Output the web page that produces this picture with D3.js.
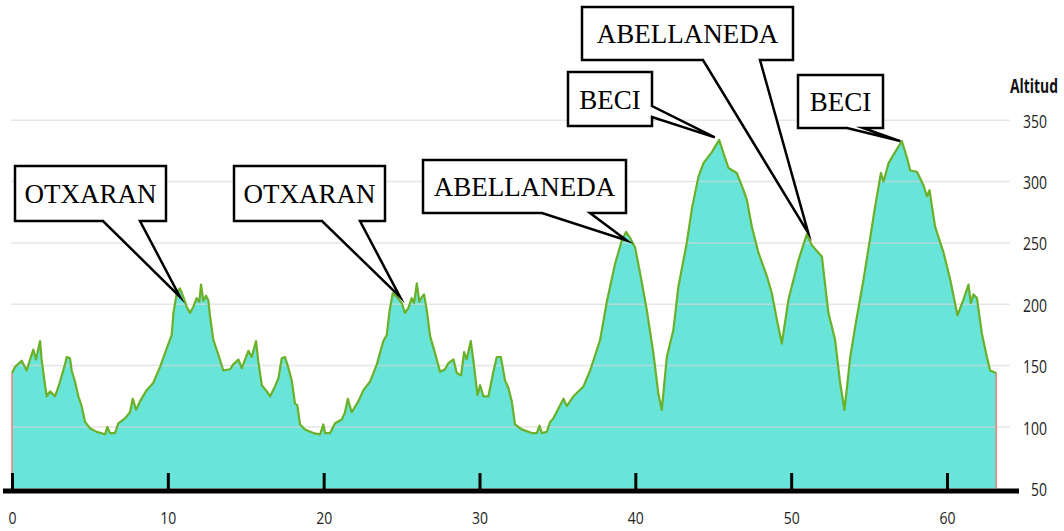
<!DOCTYPE html>
<html lang="es">

<head>
  <meta charset="UTF-8">
  <title>Perfil de altitud</title>
  <script src="https://d3js.org/d3.v7.min.js"></script>
  <style>
    body { margin: 0; background: #fff; }
    svg { display: block; }
  </style>
</head>

<body>
  <div id="container"></div>
  <script>
    // distance (km) / altitude (m)
    const distKm = [
      0, 0.2, 0.62, 0.94, 1.26, 1.37, 1.54, 1.8, 1.9, 2.12,
      2.23, 2.44, 2.76, 3.06, 3.4, 3.51, 3.72, 3.83, 4.04, 4.26,
      4.47, 4.69, 5.0, 5.44, 5.97, 6.12, 6.29, 6.61, 6.82, 7.25,
      7.57, 7.75, 7.96, 8.22, 8.64, 9.07, 9.5, 9.93, 10.25, 10.36,
      10.57, 10.78, 10.96, 11.21, 11.42, 11.64, 11.85, 12.02, 12.13, 12.28,
      12.45, 12.6, 12.71, 12.92, 13.24, 13.56, 13.99, 14.2, 14.53, 14.74,
      15.17, 15.38, 15.66, 15.81, 16.03, 16.35, 16.56, 16.88, 17.1, 17.31,
      17.52, 17.74, 17.95, 18.16, 18.3, 18.49, 18.8, 19.34, 19.77, 19.98,
      20.09, 20.41, 20.73, 21.16, 21.37, 21.55, 21.8, 22.23, 22.55, 22.98,
      23.41, 23.83, 24.05, 24.22, 24.43, 24.69, 25.01, 25.22, 25.44, 25.65,
      25.8, 25.98, 26.14, 26.3, 26.44, 26.62, 26.83, 27.15, 27.47, 27.79,
      28.0, 28.33, 28.54, 28.82, 29.01, 29.18, 29.44, 29.61, 29.87, 30.04,
      30.25, 30.57, 30.89, 31.11, 31.37, 31.64, 31.85, 32.07, 32.28, 32.71,
      33.36, 33.68, 33.85, 34.0, 34.32, 34.53, 34.74, 35.39, 35.6, 36.03,
      36.67, 37.1, 37.74, 38.17, 38.7, 39.13, 39.41, 39.67, 39.99, 40.31,
      40.74, 41.16, 41.48, 41.7, 42.02, 42.44, 42.76, 43.3, 43.63, 44.05,
      44.37, 44.91, 45.38, 45.66, 45.98, 46.51, 46.94, 47.16, 47.48, 47.9,
      48.44, 48.76, 49.09, 49.4, 49.83, 50.47, 51.0, 51.33, 51.75, 51.97,
      52.39, 52.82, 53.14, 53.42, 53.79, 54.11, 54.64, 55.07, 55.39, 55.76,
      55.93, 56.25, 56.57, 57.1, 57.42, 57.64, 58.07, 58.49, 58.71, 58.88,
      59.03, 59.24, 59.78, 60.21, 60.67, 61.06, 61.38, 61.53, 61.7, 61.92,
      62.24, 62.56, 62.77, 63.16
    ];
    const altM = [
      144, 149, 154, 146, 159, 163, 155, 170, 155, 134,
      125, 129, 125, 136, 151, 157, 156, 146, 137, 125,
      117, 104, 99, 96, 94, 100, 95, 95, 103, 107,
      112, 123, 114, 121, 130, 136, 149, 164, 175, 193,
      209, 213, 207, 198, 193, 198, 205, 202, 216, 203,
      207, 203, 190, 171, 159, 146, 147, 151, 155, 148,
      162, 157, 170, 153, 134, 129, 125, 133, 140, 156,
      157, 148, 138, 119, 118, 102, 98, 95, 94, 102,
      95, 95, 103, 106, 112, 123, 112, 121, 130, 137,
      151, 170, 175, 194, 209, 206, 201, 193, 197, 205,
      201, 217, 202, 206, 208, 195, 174, 160, 145, 147,
      152, 155, 144, 142, 161, 155, 170, 154, 126, 134,
      125, 125, 145, 157, 157, 138, 132, 121, 102, 98,
      95, 95, 101, 95, 96, 104, 107, 123, 117, 125,
      133, 146, 171, 202, 233, 252, 259, 254, 246, 225,
      195, 160, 127, 114, 157, 179, 214, 250, 278, 304,
      315, 324, 334, 323, 311, 307, 293, 285, 263, 242,
      223, 209, 187, 168, 204, 236, 257, 248, 242, 239,
      193, 171, 136, 114, 157, 182, 220, 254, 280, 307,
      300, 315, 322, 333, 320, 309, 308, 297, 288, 293,
      280, 263, 242, 220, 191, 204, 216, 201, 208, 205,
      176, 157, 146, 144
    ];

    const xTicks = [0, 10, 20, 30, 40, 50, 60];
    const yTicks = [50, 100, 150, 200, 250, 300, 350];
    const yTitle = "Altitud";

    // callouts: label, where the pointer lands (km, m)
    const calloutLabels = ["OTXARAN", "OTXARAN", "ABELLANEDA", "BECI", "ABELLANEDA", "BECI"];
    const calloutKm = [10.78, 24.9, 39.45, 45.1, 51.1, 57.0];
    const calloutAlt = [206, 206, 252, 336, 258, 333];

    // callout box layout in px (b1/b2 = where the pointer leaves the box)
    const calloutBoxes = [
      { x: 15, y: 166, w: 151, h: 55, side: "bottom", b1: 103, b2: 140 },
      { x: 234, y: 166, w: 151, h: 55, side: "bottom", b1: 322, b2: 360 },
      { x: 423, y: 160, w: 203, h: 53, side: "bottom", b1: 542, b2: 590 },
      { x: 568, y: 72, w: 84, h: 54, side: "right", b1: 106, b2: 117 },
      { x: 582, y: 7, w: 211, h: 53, side: "bottom", b1: 703, b2: 760 },
      { x: 798, y: 75, w: 85, h: 53, side: "bottom", b1: 847, b2: 863 }
    ];

    const w = 1064
    const h = 531

    const profile = distKm.map((d, i) => ({ km: d, alt: altM[i] }));

    const svg = d3.select("#container")
      .append("svg")
      .attr("width", w)
      .attr("height", h);

    const x = d3.scaleLinear().domain([0, 60]).range([12, 947]);
    const y = d3.scaleLinear().domain([50, 350]).range([488.3, 120.2]);

    // filled profile
    const area = d3.area()
      .x(d => x(d.km))
      .y0(y(50))
      .y1(d => y(d.alt));

    svg.append("path")
      .datum(profile)
      .attr("d", area)
      .attr("fill", "#68e4d8");

    // grid lines sit on top of the fill, semi transparent
    svg.append("g")
      .selectAll("line")
      .data(yTicks.filter(t => t > 50))
      .enter()
      .append("line")
      .attr("x1", 11)
      .attr("x2", 1010)
      .attr("y1", d => y(d))
      .attr("y2", d => y(d))
      .attr("stroke", "#d8d8d8")
      .attr("stroke-opacity", 0.65)
      .attr("stroke-width", 1.5);

    // red edges at start and end
    const first = profile[0], last = profile[profile.length - 1];
    [first, last].forEach(p => {
      svg.append("line")
        .attr("x1", x(p.km)).attr("x2", x(p.km))
        .attr("y1", y(p.alt)).attr("y2", y(50))
        .attr("stroke", "#ef7f7f")
        .attr("stroke-width", 1.5);
    });

    const line = d3.line()
      .x(d => x(d.km))
      .y(d => y(d.alt));

    svg.append("path")
      .datum(profile)
      .attr("d", line)
      .attr("fill", "none")
      .attr("stroke", "#6ab028")
      .attr("stroke-width", 2.2)
      .attr("stroke-linejoin", "round");

    // x axis: thick base line, ticks pointing up
    const xAxis = d3.axisBottom(x)
      .tickValues(xTicks)
      .tickFormat(d3.format("d"))
      .tickSize(-16)
      .tickPadding(23);

    const gx = svg.append("g")
      .attr("transform", "translate(0,489)")
      .call(xAxis);
    gx.select(".domain").remove();
    gx.selectAll(".tick line")
      .attr("stroke", "#000")
      .attr("stroke-width", 3);
    gx.selectAll(".tick text")
      .attr("fill", "#222")
      .style("font-family", "'Open Sans', sans-serif")
      .style("font-size", "17px")
      .attr("textLength", d => String(d).length * 8)
      .attr("lengthAdjust", "spacingAndGlyphs");

    svg.append("line")
      .attr("x1", 3)
      .attr("x2", 1019)
      .attr("y1", 491)
      .attr("y2", 491)
      .attr("stroke", "#000")
      .attr("stroke-width", 5);

    // y axis labels on the right
    const yAxis = d3.axisRight(y)
      .tickValues(yTicks)
      .tickSize(0)
      .tickPadding(0);

    const gy = svg.append("g")
      .attr("transform", "translate(1047,1)")
      .call(yAxis);
    gy.select(".domain").remove();
    gy.selectAll(".tick text")
      .attr("text-anchor", "end")
      .attr("fill", "#222")
      .style("font-family", "'Open Sans', sans-serif")
      .style("font-size", "19px")
      .attr("textLength", d => String(d).length * 8)
      .attr("lengthAdjust", "spacingAndGlyphs");

    svg.append("text")
      .attr("x", 1010)
      .attr("y", 93)
      .attr("fill", "#111")
      .style("font-family", "'Open Sans', sans-serif")
      .style("font-size", "20px")
      .style("font-weight", "bold")
      .attr("textLength", 48)
      .attr("lengthAdjust", "spacingAndGlyphs")
      .text(yTitle);

    // callouts
    const callouts = svg.append("g")
      .selectAll("g")
      .data(calloutLabels.map((l, i) => ({
        label: l,
        tx: x(calloutKm[i]),
        ty: y(calloutAlt[i]),
        box: calloutBoxes[i]
      })))
      .enter()
      .append("g");

    callouts.append("path")
      .attr("d", d => {
        const b = d.box;
        const r = b.x + b.w, btm = b.y + b.h;
        if (b.side === "right") {
          return "M" + b.x + "," + b.y + "H" + r + "V" + b.b1 +
            "L" + d.tx + "," + d.ty + "L" + r + "," + b.b2 +
            "V" + btm + "H" + b.x + "Z";
        }
        return "M" + b.x + "," + b.y + "H" + r + "V" + btm +
          "H" + b.b2 + "L" + d.tx + "," + d.ty + "L" + b.b1 + "," + btm +
          "H" + b.x + "Z";
      })
      .attr("fill", "#fff")
      .attr("stroke", "#000")
      .attr("stroke-width", 2.5)
      .attr("stroke-miterlimit", 10);

    callouts.append("text")
      .attr("x", d => d.box.x + d.box.w / 2)
      .attr("y", d => d.box.y + d.box.h / 2 + 9.5)
      .attr("text-anchor", "middle")
      .attr("fill", "#000")
      .style("font-family", "'Liberation Serif', 'Times New Roman', serif")
      .style("font-size", "27px")
      .text(d => d.label);
  </script>
</body>

</html>
